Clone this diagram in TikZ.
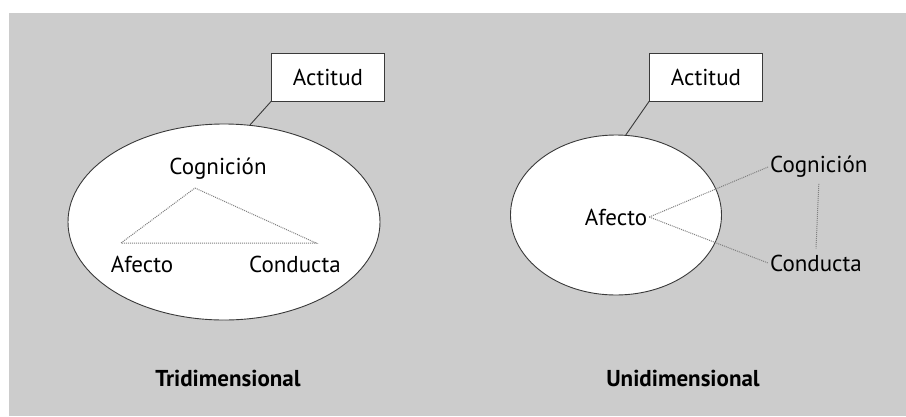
\documentclass[tikz,border=0pt]{standalone}
\usepackage{fontspec}
\setmainfont{PT Sans}
\usetikzlibrary{shapes.geometric}

\definecolor{fondo}{HTML}{CCCCCC}
\definecolor{borde}{HTML}{3A3A3A}

\tikzset{
    etiqueta/.style={font=\fontsize{23}{26}\selectfont, inner sep=2pt},
    titulo/.style={font=\fontsize{23}{26}\selectfont\bfseries},
    caja/.style={draw=borde, fill=white, line width=0.9pt, minimum width=113pt, minimum height=48pt, font=\fontsize{23}{26}\selectfont},
    ovalo/.style={ellipse, draw=borde, fill=white, line width=0.9pt, inner sep=0pt},
    punteado/.style={densely dotted, gray, line width=1pt},
    enlace/.style={draw=borde, line width=0.9pt}
}

\begin{document}
\begin{tikzpicture}[x=1pt, y=-1pt]
    \useasboundingbox (0,0) rectangle (906,416);
    \fill[fondo] (9,13) rectangle (906,416);

    % Tridimensional
    \node[ovalo, minimum width=312pt, minimum height=196pt] (ovaloT) at (224,222) {};
    \node[caja] (actitudT) at (328,77) {Actitud};
    \draw[enlace] (actitudT.south west) -- (ovaloT.75);
    \node[etiqueta] (cogT) at (218,169) {Cognición};
    \node[etiqueta] (afeT) at (142,264) {Afecto};
    \node[etiqueta] (conT) at (295,264) {Conducta};
    \coordinate (vC) at (195,188);
    \coordinate (vA) at (121,243);
    \coordinate (vB) at (316,243);
    \draw[punteado] (vC) -- (vB) -- (vA) -- cycle;
    \node[titulo] (triT) at (228,378) {Tridimensional};

    % Unidimensional
    \node[ovalo, minimum width=211pt, minimum height=160pt] (ovaloU) at (616,215) {};
    \node[caja] (actitudU) at (706,77) {Actitud};
    \draw[enlace] (actitudU.south west) -- (ovaloU.83);
    \node[etiqueta] (afeU) at (616,217) {Afecto};
    \node[etiqueta, anchor=west] (cogU) at (768,167) {Cognición};
    \node[etiqueta, anchor=west] (conU) at (768,263) {Conducta};
    \draw[punteado] (afeU.east) -- (cogU.west);
    \draw[punteado] (afeU.east) -- (conU.west);
    \draw[punteado] ([yshift=-4pt]cogU.south) -- ([yshift=4pt]conU.north);
    \node[titulo] (uniU) at (683,378) {Unidimensional};
\end{tikzpicture}
\end{document}
